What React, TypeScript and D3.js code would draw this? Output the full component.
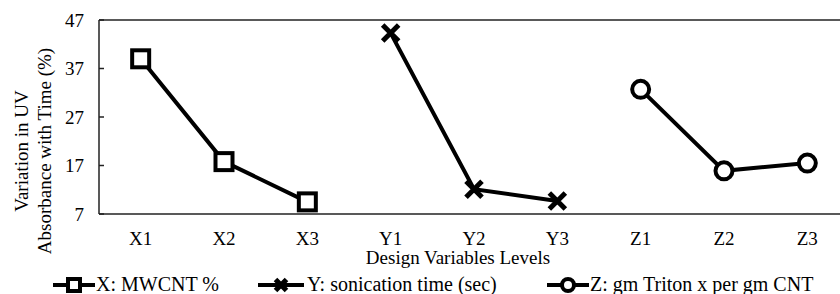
import React from "react";
import * as d3 from "d3";

// chart data
const categories = ["X1", "X2", "X3", "Y1", "Y2", "Y3", "Z1", "Z2", "Z3"];
const seriesNames = ["X: MWCNT %", "Y: sonication time (sec)", "Z: gm Triton x per gm CNT"];
const xValues = [39, 17.8, 9.5];
const yValues = [44.3, 12.1, 9.7];
const zValues = [32.7, 15.9, 17.5];
const yTicks = [7, 17, 27, 37, 47];

const W = 840;
const H = 294;
const left = 99;
const right = 849;
const top = 20;
const bottom = 214;
const font = "Liberation Serif";
const txt = { fontFamily: font, fontSize: "19px" };
const legendTxt = { fontFamily: font, fontSize: "20px" };

const x = d3.scalePoint<string>().domain(categories).range([left, right]).padding(0.5);
const y = d3.scaleLinear().domain([7, 47]).range([bottom, top]);

const series = [
  { name: seriesNames[0], shape: "square", cats: categories.slice(0, 3), values: xValues },
  { name: seriesNames[1], shape: "cross", cats: categories.slice(3, 6), values: yValues },
  { name: seriesNames[2], shape: "circle", cats: categories.slice(6, 9), values: zValues },
];

const line = d3
  .line<[string, number]>()
  .x((d) => x(d[0]) as number)
  .y((d) => y(d[1]));

function Marker({ shape, cx, cy, s }: { shape: string; cx: number; cy: number; s: number }) {
  if (shape === "square") {
    return (
      <rect x={cx - s / 2} y={cy - s / 2} width={s} height={s} fill="#fff" stroke="#000" strokeWidth={4} />
    );
  }
  if (shape === "circle") {
    return <circle cx={cx} cy={cy} r={s / 2} fill="#fff" stroke="#000" strokeWidth={4} />;
  }
  const h = s / 2;
  return (
    <path
      d={`M${cx - h},${cy - h}L${cx + h},${cy + h}M${cx - h},${cy + h}L${cx + h},${cy - h}`}
      stroke="#000"
      strokeWidth={5}
      fill="none"
    />
  );
}

// legend placement
const legendItems = [
  { lineFrom: 53, lineTo: 95, textX: 96 },
  { lineFrom: 258, lineTo: 304, textX: 307 },
  { lineFrom: 547, lineTo: 589, textX: 590 },
];

export default function App() {
  return (
    <svg width={W} height={H} style={{ position: "absolute", left: 0, top: 0, background: "#fff" }}>
      {/* frame */}
      <line x1={left} x2={W} y1={top} y2={top} stroke="#222" strokeWidth={1.5} />
      <line x1={left} x2={W} y1={bottom} y2={bottom} stroke="#222" strokeWidth={1.5} />
      <line x1={left} x2={left} y1={top} y2={bottom} stroke="#222" strokeWidth={1.5} />

      {yTicks.map((t) => (
        <g key={t}>
          <line x1={left} x2={left + 5} y1={y(t)} y2={y(t)} stroke="#222" strokeWidth={1.5} />
          <text x={84} y={y(t)} dy="0.35em" textAnchor="end" style={txt}>
            {t}
          </text>
        </g>
      ))}

      {categories.map((c) => (
        <text key={c} x={x(c)} y={245} textAnchor="middle" style={txt}>
          {c}
        </text>
      ))}

      <text x={458} y={264} textAnchor="middle" style={txt}>
        Design Variables Levels
      </text>

      <text transform="translate(28,151) rotate(-90)" textAnchor="middle" style={txt}>
        Variation in UV
      </text>
      <text transform="translate(51,151) rotate(-90)" textAnchor="middle" style={txt}>
        Absorbance with Time (%)
      </text>

      {series.map((s) => {
        const pts: [string, number][] = s.cats.map((c, i) => [c, s.values[i]]);
        return (
          <g key={s.name}>
            <path d={line(pts) || ""} fill="none" stroke="#000" strokeWidth={4} />
            {pts.map((p) => (
              <Marker key={p[0]} shape={s.shape} cx={x(p[0]) as number} cy={y(p[1])} s={s.shape === "cross" ? 16 : 17} />
            ))}
          </g>
        );
      })}

      {/* legend */}
      {series.map((s, i) => {
        const it = legendItems[i];
        const mid = (it.lineFrom + it.lineTo) / 2;
        return (
          <g key={s.name}>
            <line x1={it.lineFrom} x2={it.lineTo} y1={285} y2={285} stroke="#000" strokeWidth={4} />
            <Marker shape={s.shape} cx={mid} cy={285} s={s.shape === "cross" ? 11 : 12} />
            <text x={it.textX} y={291} style={legendTxt}>
              {s.name}
            </text>
          </g>
        );
      })}
    </svg>
  );
}
